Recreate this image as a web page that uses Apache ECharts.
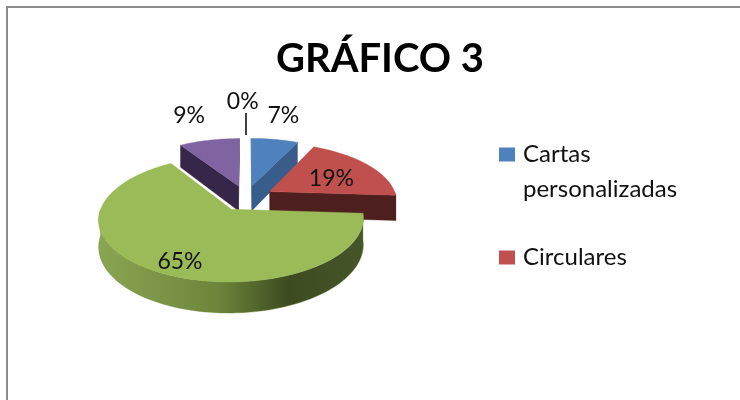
<!DOCTYPE html>
<html><head><meta charset="utf-8">
<style>html,body{margin:0;padding:0;background:#fff}#c{width:740px;height:400px}</style>
<script src="https://cdn.jsdelivr.net/npm/echarts@6/dist/echarts.min.js"></script>
</head><body><div id="c"></div>
<script>
const categories = ['Cartas personalizadas','Circulares','Categoría 3','Categoría 4','Categoría 5'];
const legendLabels = ['\nCartas\npersonalizadas','Circulares'];
const percents = [7,19,65,9,0];
const topColors = ['#4f81bd','#c0504d','#9bbb59','#8064a2','#4bacc6'];
const cutColors = ['#385d8a','#4f1f1f','#4c5e2a','#35264a','#2f6d7e'];
const labelRadius = [1.62,0.57,0.82,1.68,2.0];
const labelTurn = [-1,6,-6.5,-1.4,-1];
const drawOrder = [3,0,1,2,4];
const titleText = 'GRÁFICO 3';
const view = {cx:246,cy:198,rx:127,ry:58,k:0.15,depth:25.5,explode:0.22};

const starts = [];
percents.reduce((a,v,i)=>{starts[i]=a;return a+v*3.6;},0);
const rad = d=>d*Math.PI/180;
function P(wx,wy,h){
  const s=1/(1-view.k*wy);
  return [view.cx+view.rx*wx*s, view.cy+view.ry*wy*s+view.depth*h*s];
}
function slicePoint(ox,oy,a,r,h){return P(ox+r*Math.sin(rad(a)),oy-r*Math.cos(rad(a)),h);}
function area(q){let t=0;q.forEach((p,i)=>{const n=q[(i+1)%q.length];t+=p[0]*n[1]-n[0]*p[1];});return t;}

function makeRender(i){
  return function(params,api){
    const value=api.value(0), start=starts[i], end=start+value*3.6, mid=(start+end)/2;
    const ox=view.explode*Math.sin(rad(mid)), oy=-view.explode*Math.cos(rad(mid));
    const kids=[];
    const poly=(points,fill)=>kids.push({type:'polygon',shape:{points},style:{fill,stroke:typeof fill==='string'?fill:'#6b8338',lineWidth:0.4}});
    if(value>0){
      const arc=(a0,a1,h)=>{const o=[];const n=Math.max(2,Math.ceil((a1-a0)/2));for(let j=0;j<=n;j++)o.push(slicePoint(ox,oy,a0+(a1-a0)*j/n,1,h));return o;};
      [start,end].forEach((a,side)=>{
        const q=[P(ox,oy,0),slicePoint(ox,oy,a,1,0),slicePoint(ox,oy,a,1,1),P(ox,oy,1)];
        const facing=side===0?area(q)<0:area(q)>0;
        if(facing&&value<50) poly(q,cutColors[i]);
      });
      const w0=Math.max(start,90), w1=Math.min(end,270);
      if(w1>w0){
        const fill=i===2?new echarts.graphic.LinearGradient(0,0,1,0,[
          {offset:0,color:'#8aa552'},{offset:0.45,color:'#6d853a'},{offset:0.72,color:'#3c4b20'},{offset:1,color:'#46552a'}]):cutColors[i];
        poly(arc(w0,w1,0).concat(arc(w0,w1,1).reverse()),fill);
      }
      poly([P(ox,oy,0)].concat(arc(start,end,0)),topColors[i]);
    } else {
      kids.push({type:'line',shape:{x1:slicePoint(ox,oy,mid,1.08,0)[0],y1:slicePoint(ox,oy,mid,1.08,0)[1],x2:slicePoint(ox,oy,mid,1.66,0)[0],y2:slicePoint(ox,oy,mid,1.66,0)[1]},style:{stroke:'#000',lineWidth:1.5}});
    }
    const lp=slicePoint(ox,oy,mid+labelTurn[i],labelRadius[i],0);
    kids.push({type:'text',style:{text:value+'%',x:lp[0],y:lp[1],align:'center',verticalAlign:'middle',fill:'#111',font:'23px Lato'}});
    return {type:'group',children:kids};
  };
}

const chart=echarts.init(document.getElementById('c'),null,{renderer:'canvas'});
chart.setOption({
  animation:false,
  backgroundColor:'#fff',
  title:{text:titleText,left:375,top:34,textAlign:'center',textStyle:{fontFamily:'Lato',fontWeight:'bold',fontSize:40,color:'#000'}},
  legend:{orient:'vertical',left:494,top:97,itemWidth:16,itemHeight:14,itemGap:33,selectedMode:false,icon:'rect',
    data:categories.slice(0,2),
    formatter:n=>legendLabels[categories.indexOf(n)],
    textStyle:{fontFamily:'Lato',fontSize:24,lineHeight:35,color:'#111',padding:[0,0,0,3]}},
  graphic:[{type:'rect',silent:true,shape:{x:7,y:7,width:800,height:500},style:{fill:'none',stroke:'#8c8c8c',lineWidth:2}}],
  series:drawOrder.map(i=>({type:'custom',name:categories[i],coordinateSystem:'none',silent:true,
    itemStyle:{color:topColors[i]},renderItem:makeRender(i),data:[[percents[i]]]}))
});
</script></body></html>
